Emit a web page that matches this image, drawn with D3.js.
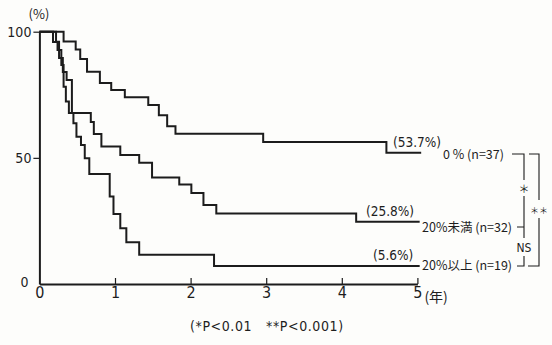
<!DOCTYPE html>
<html><head><meta charset="utf-8">
<script src="https://cdn.jsdelivr.net/npm/d3@7"></script>
<style>
body{margin:0;background:#fdfdfb;}
svg{display:block;}
text{fill:#1e1e1e;}
</style></head>
<body>
<script>
// ---- data ----
const groupNames = ["0 %", "20%未満", "20%以上"];
const groupN = [37, 32, 19];
const finalPct = ["53.7%", "25.8%", "5.6%"];
const endTime = [5.05, 5.03, 5.03];

const times0 = [0, 0.32, 0.48, 0.54, 0.63, 0.80, 0.95, 1.13, 1.44, 1.58, 1.69, 1.80, 2.96, 4.59];
const surv0  = [100, 96.1, 92.9, 89.2, 84.1, 79.7, 76.9, 74.0, 70.9, 66.9, 62.5, 59.6, 56.3, 52.0];

const times1 = [0, 0.22, 0.26, 0.31, 0.36, 0.43, 0.68, 0.72, 0.82, 1.07, 1.32, 1.49, 1.85, 2.01, 2.17, 2.34, 4.19];
const surv1  = [100, 96.0, 89.6, 84.0, 80.9, 67.8, 64.2, 59.5, 54.5, 51.1, 48.1, 42.2, 39.4, 36.1, 31.3, 27.9, 24.7];

const times2 = [0, 0.18, 0.24, 0.29, 0.32, 0.35, 0.39, 0.45, 0.49, 0.55, 0.60, 0.66, 0.93, 0.98, 1.07, 1.15, 1.32, 2.31];
const surv2  = [100, 95.9, 92.7, 86.8, 78.2, 72.3, 67.8, 63.7, 58.4, 55.1, 49.8, 43.6, 34.7, 27.7, 22.1, 16.5, 11.6, 7.1];

const xTicks = [0, 1, 2, 3, 4, 5];
const yTicks = [0, 50, 100];

// ---- drawing ----
const W = 552, H = 345;
const svg = d3.select("body").append("svg").attr("width", W).attr("height", H);
const x = d3.scaleLinear().domain([0, 5]).range([39.4, 417.4]);
const y = d3.scaleLinear().domain([0, 100]).range([284, 31.7]);
const ink = "#1c1c1c";
const numFont = "'DejaVu Sans Condensed','Liberation Sans',sans-serif";
const jpFont = "'Noto Sans CJK JP','DejaVu Sans Condensed',sans-serif";

// y axis
const yAxis = d3.axisLeft(y).tickValues(yTicks).tickSize(6).tickPadding(2).tickSizeOuter(0).tickFormat(d3.format("d"));
const gy = svg.append("g").attr("transform", `translate(${x(0)},0)`).call(yAxis);
gy.select(".domain").attr("stroke", ink).attr("stroke-width", 2);
gy.selectAll(".tick line").attr("stroke", ink).attr("stroke-width", 1.2);
gy.selectAll(".tick text").attr("font-family", numFont).attr("font-size", 14).attr("fill", "#1e1e1e");
gy.selectAll(".tick").filter(d => d === 0).select("line").remove();
gy.selectAll(".tick").filter(d => d === 0).select("text").attr("x", -11).attr("dy", "0.15em");

// x axis
const xAxis = d3.axisBottom(x).tickValues(xTicks).tickSize(-6).tickPadding(10).tickSizeOuter(0).tickFormat(d3.format("d"));
const gx = svg.append("g").attr("transform", `translate(0,${y(0)})`).call(xAxis);
gx.select(".domain").attr("stroke", ink).attr("stroke-width", 2);
gx.selectAll(".tick line").attr("stroke", ink).attr("stroke-width", 1.2);
gx.selectAll(".tick").filter(d => d === 0).select("line").remove();
gx.selectAll(".tick text").attr("font-family", numFont).attr("font-size", 16).attr("fill", "#1e1e1e")
  .attr("y", 3);

svg.append("text").attr("x", x(5) + 7).attr("y", y(0) + 18)
  .attr("font-family", jpFont).attr("font-size", 14).text("(年)");
svg.append("text").attr("x", 39).attr("y", 19).attr("text-anchor", "middle")
  .attr("font-family", jpFont).attr("font-size", 13).text("(%)");

// curves
const line = d3.line().x(d => x(d[0])).y(d => y(d[1])).curve(d3.curveStepAfter);
const series = [[times0, surv0], [times1, surv1], [times2, surv2]];
series.forEach(([t, s], i) => {
  const pts = t.map((v, j) => [v, s[j]]);
  pts.push([endTime[i], s[s.length - 1]]);
  svg.append("path").attr("d", line(pts)).attr("fill", "none")
    .attr("stroke", ink).attr("stroke-width", 2).attr("stroke-linejoin", "miter");
});

// end labels
const pctPos = [[393, 147], [366, 216], [373, 260]];
const grpY = [159, 232, 270];
finalPct.forEach((p, i) => {
  svg.append("text").attr("x", pctPos[i][0]).attr("y", pctPos[i][1])
    .attr("font-family", numFont).attr("font-size", 13.5).text(`(${p})`);
});
groupNames.forEach((g, i) => {
  svg.append("text").attr("x", i === 0 ? 443 : 422).attr("y", grpY[i])
    .attr("font-family", jpFont).attr("font-size", 12.5)
    .text(`${g} (n=${groupN[i]})`);
});

// significance brackets
const bl = svg.append("g").attr("stroke", ink).attr("stroke-width", 1.1).attr("fill", "none");
const by = [154, 227, 266];
bl.append("path").attr("d", `M512,${by[0]}H524V180M524,196V${by[1]}H517M524,${by[1]}V238M524,256V${by[2]}H517`);
bl.append("path").attr("d", `M529,${by[0]}H539V200M539,218V${by[2]}H528`);
svg.append("text").attr("x", 524).attr("y", 193).attr("text-anchor", "middle")
  .attr("font-family", jpFont).attr("font-size", 11).attr("fill", "#1e1e1e").text("＊");
svg.append("text").attr("x", 524).attr("y", 252).attr("text-anchor", "middle")
  .attr("font-family", numFont).attr("font-size", 12).text("NS");
svg.append("text").attr("x", 539).attr("y", 214).attr("text-anchor", "middle")
  .attr("font-family", jpFont).attr("font-size", 9).attr("fill", "#1e1e1e").text("＊＊");

// footnote
svg.append("text").attr("x", 190).attr("y", 331)
  .attr("font-family", numFont).attr("font-size", 14).attr("letter-spacing", 0.6)
  .attr("xml:space", "preserve")
  .text("(*P<0.01   **P<0.001)");
</script>
</body></html>
